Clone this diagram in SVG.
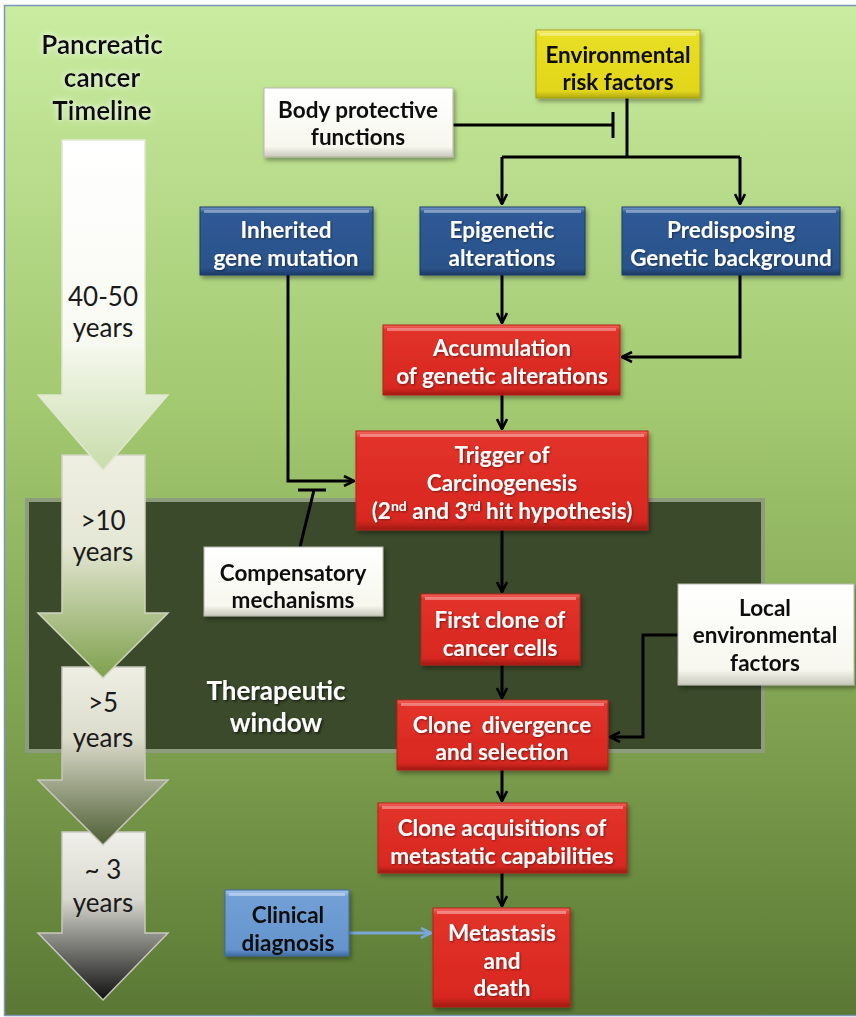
<svg xmlns="http://www.w3.org/2000/svg" width="856" height="1017" viewBox="0 0 856 1017">
<defs>
<linearGradient id="bg" x1="0" y1="0" x2="0" y2="1">
<stop offset="0" stop-color="#c9eca0"/><stop offset="0.4" stop-color="#a2c870"/><stop offset="0.75" stop-color="#7a9c4c"/><stop offset="1" stop-color="#5a7834"/>
</linearGradient>
<linearGradient id="gRed" x1="0" y1="0" x2="0" y2="1"><stop offset="0" stop-color="#f36a60"/><stop offset="0.07" stop-color="#e2322a"/><stop offset="0.9" stop-color="#d82820"/><stop offset="1" stop-color="#a01a14"/></linearGradient>
<linearGradient id="gBlue" x1="0" y1="0" x2="0" y2="1"><stop offset="0" stop-color="#7a9ccc"/><stop offset="0.08" stop-color="#2f5a96"/><stop offset="0.9" stop-color="#2a528a"/><stop offset="1" stop-color="#1c3a66"/></linearGradient>
<linearGradient id="gYel" x1="0" y1="0" x2="0" y2="1"><stop offset="0" stop-color="#f6f27a"/><stop offset="0.08" stop-color="#e8de22"/><stop offset="0.9" stop-color="#e2d61c"/><stop offset="1" stop-color="#b0a810"/></linearGradient>
<linearGradient id="gWht" x1="0" y1="0" x2="0" y2="1"><stop offset="0" stop-color="#ffffff"/><stop offset="0.85" stop-color="#f7f7ee"/><stop offset="1" stop-color="#c8c8bc"/></linearGradient>
<linearGradient id="gLb" x1="0" y1="0" x2="0" y2="1"><stop offset="0" stop-color="#a8c6ec"/><stop offset="0.1" stop-color="#72a0d6"/><stop offset="0.9" stop-color="#6494cc"/><stop offset="1" stop-color="#3e6aa0"/></linearGradient>
<linearGradient id="a1" x1="0" y1="0" x2="0" y2="1"><stop offset="0" stop-color="#ffffff"/><stop offset="0.6" stop-color="#f8faf2"/><stop offset="1" stop-color="#c8dcaa"/></linearGradient>
<linearGradient id="a2" x1="0" y1="0" x2="0" y2="1"><stop offset="0" stop-color="#eeeee2"/><stop offset="0.4" stop-color="#e6e8d6"/><stop offset="1" stop-color="#7ea04c"/></linearGradient>
<linearGradient id="a3" x1="0" y1="0" x2="0" y2="1"><stop offset="0" stop-color="#eeeee4"/><stop offset="0.4" stop-color="#dcdccc"/><stop offset="1" stop-color="#4e5e34"/></linearGradient>
<linearGradient id="a4" x1="0" y1="0" x2="0" y2="1"><stop offset="0" stop-color="#f0f0ea"/><stop offset="0.4" stop-color="#d8d8d0"/><stop offset="1" stop-color="#101010"/></linearGradient>
<filter id="sh" x="-10%" y="-10%" width="125%" height="130%"><feDropShadow dx="2" dy="3" stdDeviation="2" flood-color="#000" flood-opacity="0.35"/></filter>
<filter id="glow" x="-20%" y="-40%" width="140%" height="180%"><feGaussianBlur in="SourceAlpha" stdDeviation="3" result="b"/><feFlood flood-color="#ffffff" flood-opacity="0.9"/><feComposite in2="b" operator="in" result="g"/><feMerge><feMergeNode in="g"/><feMergeNode in="SourceGraphic"/></feMerge></filter>
<filter id="tsh" x="-10%" y="-20%" width="130%" height="150%"><feDropShadow dx="1.5" dy="1.5" stdDeviation="1" flood-color="#000" flood-opacity="0.6"/></filter>
<filter id="tsw" x="-10%" y="-20%" width="130%" height="150%"><feDropShadow dx="1" dy="1" stdDeviation="0.8" flood-color="#000" flood-opacity="0.45"/></filter>
<marker id="ah" viewBox="0 0 12 12" refX="11" refY="6" markerWidth="12" markerHeight="12" markerUnits="userSpaceOnUse" orient="auto"><path d="M1,1 L11,6 L1,11" fill="none" stroke="#000" stroke-width="2.6"/></marker>
<marker id="ahb" viewBox="0 0 12 12" refX="11" refY="6" markerWidth="12" markerHeight="12" markerUnits="userSpaceOnUse" orient="auto"><path d="M1,1 L11,6 L1,11" fill="none" stroke="#7aa6d8" stroke-width="2.6"/></marker>
<style>
text{font-family:Lato,"Open Sans","Liberation Sans",sans-serif;font-weight:bold;font-size:22.5px;text-anchor:middle}
.w{fill:#ffffff}
.k{fill:#111111}
.red{fill:url(#gRed);stroke:#b52019;stroke-width:1}
.blue{fill:url(#gBlue);stroke:#1c3a66;stroke-width:1}
.yel{fill:url(#gYel);stroke:#a8a010;stroke-width:1}
.wht{fill:url(#gWht);stroke:#b8b8ac;stroke-width:1}
.lb{fill:url(#gLb);stroke:#3e6aa0;stroke-width:1}
.hl{fill:#ffffff;opacity:0.35}
.ln{fill:none;stroke:#000;stroke-width:3}
.tl{font-weight:normal;font-size:26px;fill:#1a1a1a}
.ttl{font-size:26px}
.tw{font-size:26px}
</style>
</defs>
<rect x="0" y="0" width="856" height="1017" fill="#ffffff"/>
<rect x="4.5" y="5.5" width="860" height="1010" fill="url(#bg)" stroke="#7d96b8" stroke-width="1.5"/>

<g id="therapeutic-window">
<rect x="27" y="500" width="736" height="251" fill="#3a4a2a" stroke="#8e9c7e" stroke-width="4"/>
<text x="276" y="700" class="w tw" filter="url(#tsh)">Therapeutic</text>
<text x="276" y="732" class="w tw" filter="url(#tsh)">window</text>
</g>

<g id="timeline">
<text x="102" y="54" class="k ttl" filter="url(#glow)">Pancreatic</text>
<text x="102" y="87" class="k ttl" filter="url(#glow)">cancer</text>
<text x="102" y="120" class="k ttl" filter="url(#glow)">Timeline</text>
<g id="arrow-3yr">
<polygon points="62,832 145,832 145,933 168,933 103,1000 38,933 62,933" fill="url(#a4)" stroke="#c8c8c0" stroke-width="1.5"/>
<text x="103" y="879" class="tl">~ 3</text>
<text x="103" y="912" class="tl">years</text>
</g>
<g id="arrow-5yr">
<polygon points="62,667 145,667 145,780 168,780 103,845 38,780 62,780" fill="url(#a3)" stroke="#c8c8bc" stroke-width="1.5"/>
<text x="103" y="712" class="tl">&gt;5</text>
<text x="103" y="747" class="tl">years</text>
</g>
<g id="arrow-10yr">
<polygon points="62,455 145,455 145,613 168,613 103,678 38,613 62,613" fill="url(#a2)" stroke="#d0d4c0" stroke-width="1.5"/>
<text x="103" y="530" class="tl">&gt;10</text>
<text x="103" y="561" class="tl">years</text>
</g>
<g id="arrow-40yr">
<polygon points="62,140 145,140 145,395 168,395 103,470 38,395 62,395" fill="url(#a1)" stroke="#e0e8d0" stroke-width="1.5"/>
<text x="103" y="306" class="tl">40-50</text>
<text x="103" y="337" class="tl">years</text>
</g>
</g>

<g id="connectors">
<path class="ln" d="M453,125 H613 M613,112 V138"/>
<path class="ln" d="M627,98 V157"/>
<path class="ln" d="M502,157 H740"/>
<path class="ln" d="M502,157 V204" marker-end="url(#ah)"/>
<path class="ln" d="M740,157 V204" marker-end="url(#ah)"/>
<path class="ln" d="M502,275 V323" marker-end="url(#ah)"/>
<path class="ln" d="M740,275 V357 H622" marker-end="url(#ah)"/>
<path class="ln" d="M502,395 V429" marker-end="url(#ah)"/>
<path class="ln" d="M288,275 V481 H354" marker-end="url(#ah)"/>
<path class="ln" d="M300,547 L314,490 M298,490 H326"/>
<path class="ln" d="M502,530 V592" marker-end="url(#ah)"/>
<path class="ln" d="M502,665 V698" marker-end="url(#ah)"/>
<path class="ln" d="M678,635 H643 V737 H610" marker-end="url(#ah)"/>
<path class="ln" d="M502,770 V801" marker-end="url(#ah)"/>
<path class="ln" d="M502,873 V906" marker-end="url(#ah)"/>
<path d="M349,933 H431" fill="none" stroke="#7aa6d8" stroke-width="3" marker-end="url(#ahb)"/>
</g>

<g id="env-risk" filter="url(#sh)">
<rect x="536" y="30" width="164" height="68" class="yel"/><rect x="540" y="33" width="156" height="3" class="hl"/>
<text x="618" y="63" class="k">Environmental</text><text x="618" y="90" class="k">risk factors</text>
</g>
<g id="body-protective" filter="url(#sh)">
<rect x="264" y="88" width="189" height="69" class="wht"/>
<text x="358" y="118" class="k">Body protective</text><text x="358" y="145" class="k">functions</text>
</g>
<g id="inherited" filter="url(#sh)">
<rect x="200" y="207" width="173" height="68" class="blue"/><rect x="204" y="210" width="165" height="3" class="hl"/>
<text x="286" y="238" class="w" filter="url(#tsw)">Inherited</text><text x="286" y="266" class="w" filter="url(#tsw)">gene mutation</text>
</g>
<g id="epigenetic" filter="url(#sh)">
<rect x="420" y="207" width="165" height="68" class="blue"/><rect x="424" y="210" width="157" height="3" class="hl"/>
<text x="502" y="238" class="w" filter="url(#tsw)">Epigenetic</text><text x="502" y="266" class="w" filter="url(#tsw)">alterations</text>
</g>
<g id="predisposing" filter="url(#sh)">
<rect x="622" y="207" width="218" height="68" class="blue"/><rect x="626" y="210" width="210" height="3" class="hl"/>
<text x="731" y="238" class="w" filter="url(#tsw)">Predisposing</text><text x="731" y="266" class="w" filter="url(#tsw)">Genetic background</text>
</g>
<g id="accumulation" filter="url(#sh)">
<rect x="383" y="325" width="237" height="70" class="red"/><rect x="387" y="328" width="229" height="3" class="hl"/>
<text x="502" y="356" class="w" filter="url(#tsw)">Accumulation</text><text x="502" y="384" class="w" filter="url(#tsw)">of genetic alterations</text>
</g>
<g id="trigger" filter="url(#sh)">
<rect x="356" y="431" width="292" height="99" class="red"/><rect x="360" y="434" width="284" height="3" class="hl"/>
<text x="502" y="463" class="w" filter="url(#tsw)">Trigger of</text><text x="502" y="491" class="w" filter="url(#tsw)">Carcinogenesis</text>
<text x="502" y="519" class="w" filter="url(#tsw)">(2<tspan font-size="14" dy="-8">nd</tspan><tspan dy="8"> and 3</tspan><tspan font-size="14" dy="-8">rd</tspan><tspan dy="8"> hit hypothesis)</tspan></text>
</g>
<g id="compensatory" filter="url(#sh)">
<rect x="204" y="547" width="179" height="69" class="wht"/>
<text x="293" y="581" class="k">Compensatory</text><text x="293" y="608" class="k">mechanisms</text>
</g>
<g id="first-clone" filter="url(#sh)">
<rect x="421" y="594" width="159" height="71" class="red"/><rect x="425" y="597" width="151" height="3" class="hl"/>
<text x="500" y="628" class="w" filter="url(#tsw)">First clone of</text><text x="500" y="656" class="w" filter="url(#tsw)">cancer cells</text>
</g>
<g id="local-env" filter="url(#sh)">
<rect x="678" y="584" width="176" height="101" class="wht"/>
<text x="765" y="616" class="k">Local</text><text x="765" y="643" class="k">environmental</text><text x="765" y="671" class="k">factors</text>
</g>
<g id="clone-divergence" filter="url(#sh)">
<rect x="397" y="700" width="211" height="70" class="red"/><rect x="401" y="703" width="203" height="3" class="hl"/>
<text x="502" y="733" class="w" filter="url(#tsw)" xml:space="preserve">Clone  divergence</text><text x="502" y="760" class="w" filter="url(#tsw)">and selection</text>
</g>
<g id="clone-acquisitions" filter="url(#sh)">
<rect x="378" y="803" width="249" height="70" class="red"/><rect x="382" y="806" width="241" height="3" class="hl"/>
<text x="502" y="836" class="w" filter="url(#tsw)">Clone acquisitions of</text><text x="502" y="864" class="w" filter="url(#tsw)">metastatic capabilities</text>
</g>
<g id="clinical" filter="url(#sh)">
<rect x="225" y="890" width="124" height="66" class="lb"/><rect x="229" y="893" width="116" height="3" class="hl"/>
<text x="288" y="923" class="k">Clinical</text><text x="288" y="951" class="k">diagnosis</text>
</g>
<g id="metastasis" filter="url(#sh)">
<rect x="433" y="908" width="137" height="99" class="red"/><rect x="437" y="911" width="129" height="3" class="hl"/>
<text x="502" y="941" class="w" filter="url(#tsw)">Metastasis</text><text x="502" y="969" class="w" filter="url(#tsw)">and</text><text x="502" y="996" class="w" filter="url(#tsw)">death</text>
</g>
</svg>
